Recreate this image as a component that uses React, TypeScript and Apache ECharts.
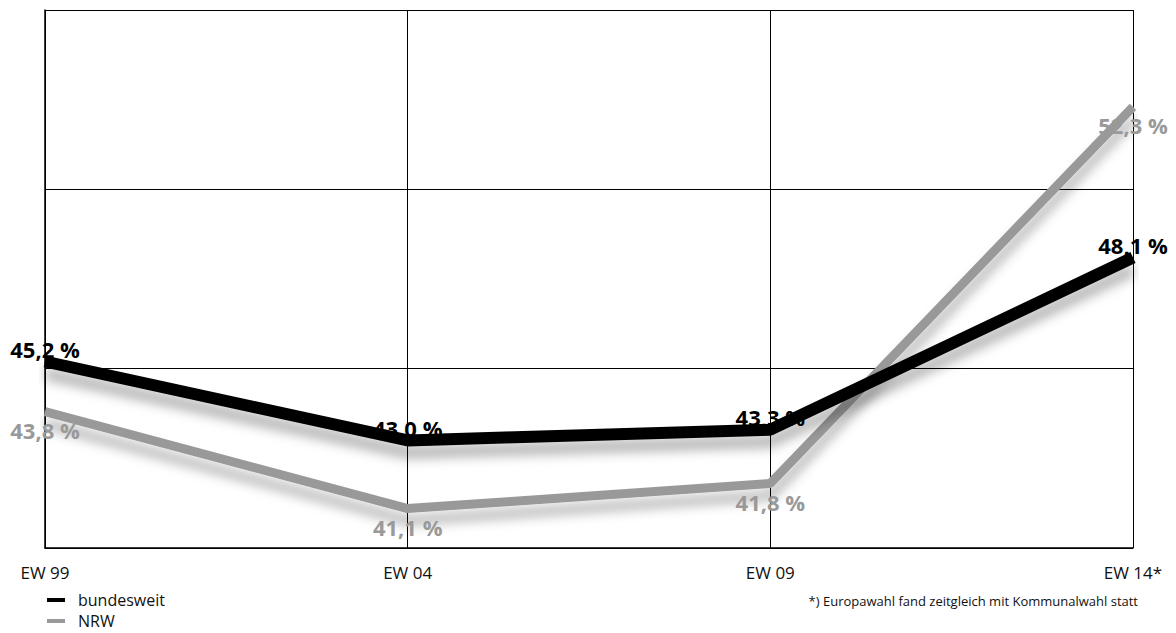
import React, { useEffect, useRef } from "react";
import * as echarts from "echarts";

const categories = ["EW 99", "EW 04", "EW 09", "EW 14*"];
const bundesweit = [45.2, 43.0, 43.3, 48.1];
const nrw = [43.8, 41.1, 41.8, 52.3];
const footnote = "*) Europawahl fand zeitgleich mit Kommunalwahl statt";

const fmt = (p: any) => `${Number(p.value).toFixed(1).replace(".", ",")} %`;
const FONT = "'Open Sans', 'DejaVu Sans', sans-serif";

const legendBase = {
  left: 47,
  itemWidth: 18,
  itemHeight: 4,
  itemGap: 0,
  padding: 0,
  icon: "rect",
  textStyle: { fontSize: 16, lineHeight: 20, color: "#111", fontFamily: FONT, padding: [0, 0, 0, 8] },
};

export default function App() {
  const ref = useRef<HTMLDivElement>(null);
  useEffect(() => {
    const chart = echarts.init(ref.current!, undefined, { renderer: "svg" });
    chart.setOption({
      animation: false,
      backgroundColor: "#fff",
      textStyle: { fontFamily: FONT },
      grid: { left: 45, right: 43, top: 10, bottom: 85 },
      legend: [
        { ...legendBase, top: 590, data: ["bundesweit"] },
        { ...legendBase, top: 611, data: ["NRW"] },
      ],
      graphic: [
        {
          type: "text",
          right: 38,
          top: 594,
          style: { text: footnote, fontSize: 13, fill: "#111", fontFamily: FONT },
        },
      ],
      xAxis: {
        type: "category",
        data: categories,
        boundaryGap: false,
        axisLine: { show: true, lineStyle: { color: "#000", width: 1.5 } },
        axisTick: { show: false },
        splitLine: { show: true, lineStyle: { color: "#000", width: 1 } },
        axisLabel: { fontSize: 17, color: "#111", margin: 16, fontFamily: FONT },
      },
      yAxis: {
        type: "value",
        min: 40,
        max: 55,
        interval: 5,
        axisLine: { show: true, lineStyle: { color: "#000", width: 1.5 } },
        axisTick: { show: false },
        axisLabel: { show: false },
        splitLine: { show: true, lineStyle: { color: "#000", width: 1 } },
      },
      series: [
        {
          name: "NRW",
          type: "line",
          data: nrw,
          symbol: "circle",
          symbolSize: 1,
          showSymbol: true,
          itemStyle: { color: "#999" },
          color: "#999",
          lineStyle: {
            color: "#999",
            width: 9,
            shadowColor: "rgba(0,0,0,0.3)",
            shadowBlur: 12,
            shadowOffsetY: 12,
          },
          label: {
            show: true,
            position: "bottom",
            distance: 7,
            formatter: fmt,
            fontSize: 22,
            fontWeight: "bold",
            color: "#999",
            fontFamily: FONT,
          },
          z: 2,
        },
        {
          name: "bundesweit",
          type: "line",
          data: bundesweit,
          symbol: "circle",
          symbolSize: 1,
          showSymbol: true,
          itemStyle: { color: "#000" },
          color: "#000",
          lineStyle: {
            color: "#000",
            width: 12,
            shadowColor: "rgba(0,0,0,0.3)",
            shadowBlur: 12,
            shadowOffsetY: 12,
          },
          label: {
            show: true,
            position: "top",
            distance: 1,
            formatter: fmt,
            fontSize: 22,
            fontWeight: "bold",
            color: "#000",
            fontFamily: FONT,
          },
          z: 3,
        },
      ],
    });
    return () => chart.dispose();
  }, []);
  return (
    <div
      ref={ref}
      style={{ position: "absolute", left: 0, top: 0, width: 1176, height: 633 }}
    />
  );
}
